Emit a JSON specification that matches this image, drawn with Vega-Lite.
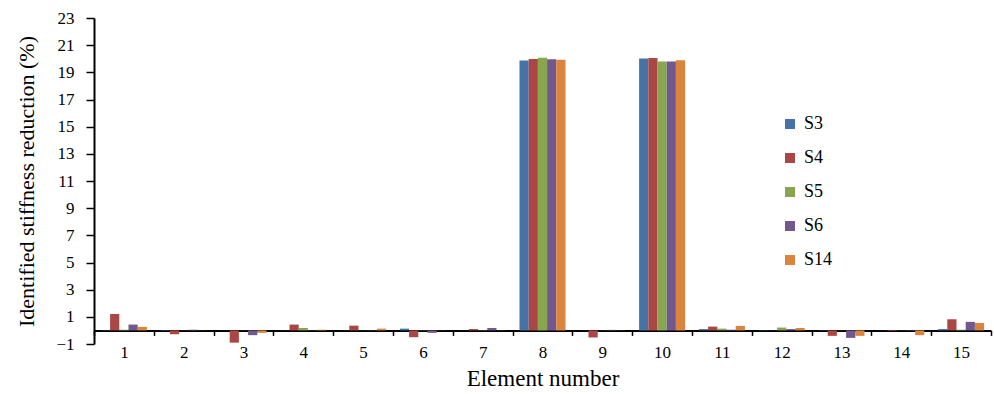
{
  "$schema": "https://vega.github.io/schema/vega-lite/v6.json",
  "autosize": {"type": "none"},
  "padding": {"left": 94, "top": 18, "right": 3, "bottom": 50},
  "width": 897,
  "height": 326,
  "background": "white",
  "config": {
    "view": {"stroke": null},
    "font": "Times New Roman, Liberation Serif, serif",
    "axis": {"grid": false, "domainColor": "#000000", "tickColor": "#000000", "labelColor": "#000000", "titleColor": "#000000", "labelFont": "Times New Roman, Liberation Serif, serif", "titleFont": "Times New Roman, Liberation Serif, serif", "titleFontWeight": "normal"},
    "legend": {"labelFont": "Times New Roman, Liberation Serif, serif"}
  },
  "data": {
    "values": [
      {"e": 1, "s": "S3", "v": 0.02}, {"e": 1, "s": "S4", "v": 1.21}, {"e": 1, "s": "S5", "v": 0.05}, {"e": 1, "s": "S6", "v": 0.43}, {"e": 1, "s": "S14", "v": 0.26},
      {"e": 2, "s": "S3", "v": 0.03}, {"e": 2, "s": "S4", "v": -0.28}, {"e": 2, "s": "S5", "v": 0.01}, {"e": 2, "s": "S6", "v": 0.05}, {"e": 2, "s": "S14", "v": 0.01},
      {"e": 3, "s": "S3", "v": 0.01}, {"e": 3, "s": "S4", "v": -0.9}, {"e": 3, "s": "S5", "v": 0.01}, {"e": 3, "s": "S6", "v": -0.35}, {"e": 3, "s": "S14", "v": -0.18},
      {"e": 4, "s": "S3", "v": 0.01}, {"e": 4, "s": "S4", "v": 0.43}, {"e": 4, "s": "S5", "v": 0.18}, {"e": 4, "s": "S6", "v": 0.02}, {"e": 4, "s": "S14", "v": 0.05},
      {"e": 5, "s": "S3", "v": 0.01}, {"e": 5, "s": "S4", "v": 0.35}, {"e": 5, "s": "S5", "v": 0.01}, {"e": 5, "s": "S6", "v": 0.02}, {"e": 5, "s": "S14", "v": 0.13},
      {"e": 6, "s": "S3", "v": 0.13}, {"e": 6, "s": "S4", "v": -0.5}, {"e": 6, "s": "S5", "v": 0.02}, {"e": 6, "s": "S6", "v": -0.18}, {"e": 6, "s": "S14", "v": 0.01},
      {"e": 7, "s": "S3", "v": 0.01}, {"e": 7, "s": "S4", "v": 0.1}, {"e": 7, "s": "S5", "v": 0.02}, {"e": 7, "s": "S6", "v": 0.18}, {"e": 7, "s": "S14", "v": 0.01},
      {"e": 8, "s": "S3", "v": 19.87}, {"e": 8, "s": "S4", "v": 19.99}, {"e": 8, "s": "S5", "v": 20.07}, {"e": 8, "s": "S6", "v": 19.97}, {"e": 8, "s": "S14", "v": 19.92},
      {"e": 9, "s": "S3", "v": 0.01}, {"e": 9, "s": "S4", "v": -0.52}, {"e": 9, "s": "S5", "v": 0.01}, {"e": 9, "s": "S6", "v": 0.04}, {"e": 9, "s": "S14", "v": 0.01},
      {"e": 10, "s": "S3", "v": 20.01}, {"e": 10, "s": "S4", "v": 20.06}, {"e": 10, "s": "S5", "v": 19.79}, {"e": 10, "s": "S6", "v": 19.79}, {"e": 10, "s": "S14", "v": 19.89},
      {"e": 11, "s": "S3", "v": 0.1}, {"e": 11, "s": "S4", "v": 0.28}, {"e": 11, "s": "S5", "v": 0.13}, {"e": 11, "s": "S6", "v": 0.05}, {"e": 11, "s": "S14", "v": 0.33},
      {"e": 12, "s": "S3", "v": -0.02}, {"e": 12, "s": "S4", "v": 0.01}, {"e": 12, "s": "S5", "v": 0.21}, {"e": 12, "s": "S6", "v": 0.1}, {"e": 12, "s": "S14", "v": 0.18},
      {"e": 13, "s": "S3", "v": 0.02}, {"e": 13, "s": "S4", "v": -0.4}, {"e": 13, "s": "S5", "v": 0.01}, {"e": 13, "s": "S6", "v": -0.55}, {"e": 13, "s": "S14", "v": -0.4},
      {"e": 14, "s": "S3", "v": 0.01}, {"e": 14, "s": "S4", "v": -0.05}, {"e": 14, "s": "S5", "v": 0.01}, {"e": 14, "s": "S6", "v": -0.03}, {"e": 14, "s": "S14", "v": -0.35},
      {"e": 15, "s": "S3", "v": 0.1}, {"e": 15, "s": "S4", "v": 0.82}, {"e": 15, "s": "S5", "v": 0.05}, {"e": 15, "s": "S6", "v": 0.63}, {"e": 15, "s": "S14", "v": 0.55}
    ]
  },
  "mark": {"type": "bar"},
  "encoding": {
    "x": {
      "field": "e",
      "type": "ordinal",
      "scale": {"paddingInner": 0, "paddingOuter": 0},
      "axis": {
        "title": "Element number",
        "titleFontSize": 23,
        "titlePadding": 7,
        "labelFontSize": 17,
        "labelAngle": 0,
        "labelPadding": 9,
        "tickBand": "extent",
        "tickSize": 5,
        "tickWidth": 1.5,
        "domainWidth": 2,
        "offset": -13.583
      }
    },
    "xOffset": {
      "field": "s",
      "type": "nominal",
      "sort": ["S3", "S4", "S5", "S6", "S14"],
      "scale": {"paddingInner": 0, "paddingOuter": 0.75}
    },
    "y": {
      "field": "v",
      "type": "quantitative",
      "scale": {"domain": [-1, 23], "nice": false},
      "axis": {
        "title": "Identified stiffness reduction (%)",
        "titleFontSize": 22,
        "titlePadding": 17,
        "values": [-1, 1, 3, 5, 7, 9, 11, 13, 15, 17, 19, 21, 23],
        "labelFontSize": 17,
        "labelPadding": 12,
        "tickSize": 8,
        "tickWidth": 1.5,
        "domainWidth": 2
      }
    },
    "color": {
      "field": "s",
      "type": "nominal",
      "scale": {
        "domain": ["S3", "S4", "S5", "S6", "S14"],
        "range": ["#4572A7", "#AA4643", "#89A54E", "#71588F", "#DB843D"]
      },
      "legend": {
        "title": null,
        "orient": "none",
        "legendX": 687,
        "legendY": 97,
        "padding": 0,
        "symbolType": "square",
        "symbolSize": 100,
        "symbolStrokeWidth": 0,
        "labelFontSize": 18,
        "labelColor": "#000000",
        "labelOffset": 5,
        "rowPadding": 16
      }
    }
  }
}
